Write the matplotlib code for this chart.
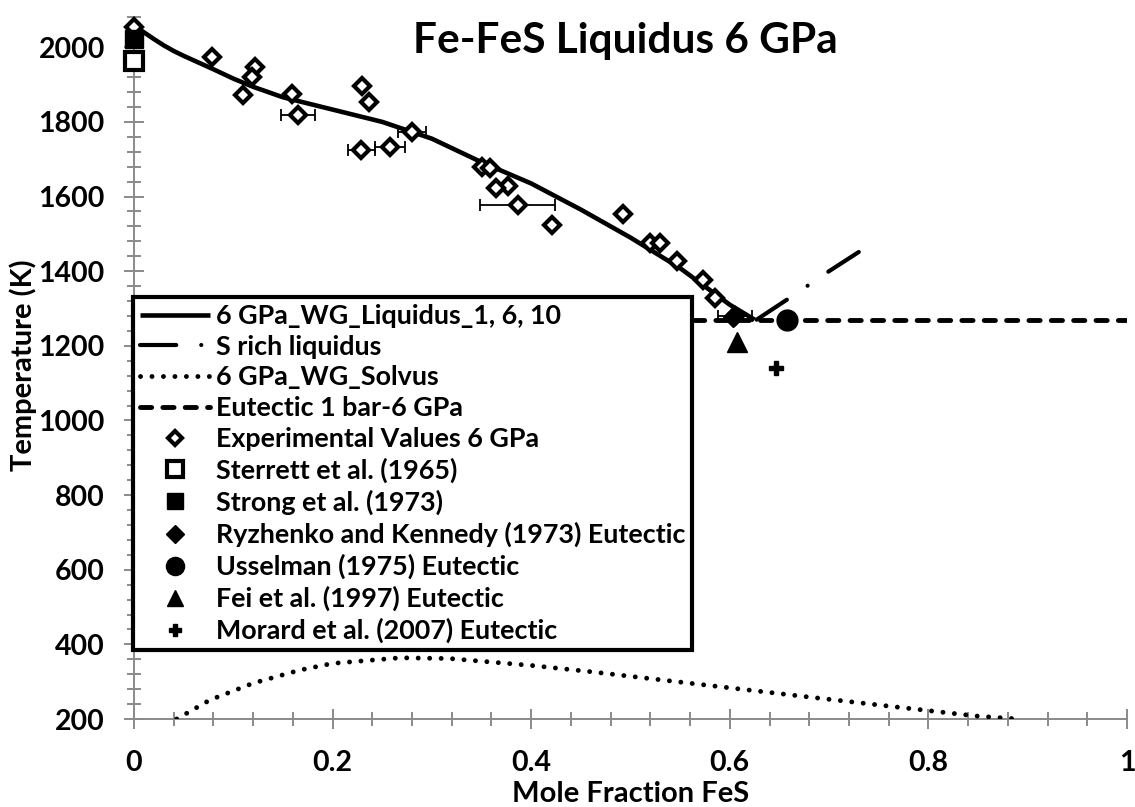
import matplotlib
matplotlib.use('Agg')
import matplotlib.pyplot as plt
from matplotlib.ticker import MultipleLocator, FuncFormatter

plt.rcParams['font.family'] = ['Lato', 'DejaVu Sans']
plt.rcParams['font.weight'] = 'bold'

# ---------------- data ----------------
liq_x = [0, 0.01, 0.02, 0.03, 0.04, 0.05, 0.06, 0.08, 0.1, 0.12, 0.15, 0.2, 0.25, 0.3,
         0.35, 0.4, 0.45, 0.5, 0.55, 0.6, 0.625]
liq_T = [2058, 2040, 2022, 2005, 1990, 1977, 1965, 1941, 1916, 1894, 1866, 1833, 1800, 1755,
         1692, 1635, 1565, 1490, 1408, 1310, 1270]

srich_x = [0.627, 0.66, 0.70, 0.732]
srich_T = [1270, 1328, 1400, 1455]

solvus_x = [0.043, 0.0765, 0.12, 0.167, 0.2, 0.268, 0.318, 0.402, 0.459, 0.566, 0.676, 0.765, 0.848, 0.875, 0.89]
solvus_T = [200, 251, 296, 331, 349, 364, 362, 343, 327, 294, 260, 233, 208, 203, 200]

eut_x = [0, 1.0]
eut_T = [1270, 1270]

exp_x = [0, 0.079, 0.122, 0.1185, 0.1095, 0.159, 0.1655, 0.230, 0.237, 0.229, 0.258, 0.280,
         0.350, 0.359, 0.377, 0.3645, 0.3864, 0.4206, 0.492, 0.520, 0.530, 0.547, 0.573, 0.585, 0.605]
exp_T = [2055, 1975, 1948, 1921, 1872, 1874, 1819, 1895, 1852, 1725, 1734, 1774,
         1678, 1676, 1627, 1622, 1576, 1524, 1553, 1475, 1476, 1426, 1376, 1327, 1281]
exp_xerr = [0, 0, 0, 0, 0, 0, 0.017, 0, 0, 0.0135, 0.015, 0.0145,
            0, 0, 0, 0, 0.0375, 0, 0, 0, 0, 0, 0, 0, 0.017]

sterrett_x, sterrett_T = [0], [1964]
strong_x, strong_T = [0], [2022]
ryz_x, ryz_T = [0.6035], [1277]
uss_x, uss_T = [0.658], [1268]
fei_x, fei_T = [0.607], [1210]
morard_x, morard_T = [0.647], [1141]

labels = ['6 GPa_WG_Liquidus_1, 6, 10', 'S rich liquidus', '6 GPa_WG_Solvus',
          'Eutectic 1 bar-6 GPa', 'Experimental Values 6 GPa', 'Sterrett et al. (1965)',
          'Strong et al. (1973)', 'Ryzhenko and Kennedy (1973) Eutectic',
          'Usselman (1975) Eutectic', 'Fei et al. (1997) Eutectic',
          'Morard et al. (2007) Eutectic']

# ---------------- figure ----------------
W, H = 1135, 807
fig = plt.figure(figsize=(W / 100, H / 100), dpi=100)
ax = fig.add_axes([134 / W, 88 / H, 993 / W, 701.6 / H])
ax.set_xlim(0, 1)
ax.set_ylim(200, 2080)

h1, = ax.plot(liq_x, liq_T, color='black', lw=3.3, solid_capstyle='butt',
              solid_joinstyle='round', zorder=3)
h2, = ax.plot(srich_x, srich_T, color='black', lw=3.0, dashes=(8.7, 6, 0.01, 6),
              dash_capstyle='round', zorder=3)
h3, = ax.plot(solvus_x, solvus_T, color='black', lw=3.5, dashes=(0.01, 2.35),
              dash_capstyle='round', zorder=3)
h4, = ax.plot(eut_x, eut_T, color='black', lw=3.5, dashes=(2.3, 2.3),
              dash_capstyle='round', zorder=3)

ax.errorbar(exp_x, exp_T, xerr=exp_xerr, fmt='none', ecolor='black', elinewidth=1.3,
            capsize=4, capthick=1.3, zorder=4)
h5, = ax.plot(exp_x, exp_T, 'D', ms=8.5, mfc='white', mec='black', mew=3.0,
              zorder=5, clip_on=False)
h6, = ax.plot(sterrett_x, sterrett_T, 's', ms=12.5, mfc='white', mec='black', mew=3.0,
              zorder=6, clip_on=False)
h7, = ax.plot(strong_x, strong_T, 's', ms=13, color='black', zorder=5.5, clip_on=False)
h8, = ax.plot(ryz_x, ryz_T, 'D', ms=10, color='black', zorder=6)
h9, = ax.plot(uss_x, uss_T, 'o', ms=15, color='black', zorder=6)
h10, = ax.plot(fei_x, fei_T, '^', ms=14, color='black', zorder=6)
h11, = ax.plot(morard_x, morard_T, 'P', ms=10, color='black', zorder=6)

# axes styling
gray = '#8a8a8a'
for s in ['top', 'right']:
    ax.spines[s].set_visible(False)
for s in ['left', 'bottom']:
    ax.spines[s].set_color(gray)
    ax.spines[s].set_linewidth(1.4)

ax.xaxis.set_major_locator(MultipleLocator(0.2))
ax.xaxis.set_minor_locator(MultipleLocator(0.04))
ax.yaxis.set_major_locator(MultipleLocator(200))
ax.yaxis.set_minor_locator(MultipleLocator(40))
ax.xaxis.set_major_formatter(FuncFormatter(lambda v, p: '%g' % round(v, 2)))
ax.yaxis.set_major_formatter(FuncFormatter(lambda v, p: '%d' % v))
ax.tick_params(which='major', direction='inout', length=14, width=1.4, color=gray,
               labelsize=20.5)
ax.tick_params(axis='x', which='major', pad=15)
ax.tick_params(axis='y', which='major', pad=14)
ax.tick_params(which='minor', direction='inout', length=10, width=1.4, color=gray)
for lab in ax.get_xticklabels() + ax.get_yticklabels():
    lab.set_fontweight('bold')

fig.text(625 / W, 1 - 53 / H, 'Fe-FeS Liquidus 6 GPa', ha='center', va='baseline',
         fontsize=30.5, fontweight='bold')
fig.text(630.5 / W, 4.5 / H, 'Mole Fraction FeS', ha='center', va='baseline',
         fontsize=21, fontweight='bold')
fig.text(23 / W, 1 - 365 / H, 'Temperature (K)', ha='center', va='center',
         rotation=90, fontsize=21, fontweight='bold')

leg = fig.legend([h1, h2, h3, h4, h5, h6, h7, h8, h9, h10, h11], labels,
                 loc='upper left', bbox_to_anchor=(133 / W, 1 - 297 / H),
                 bbox_transform=fig.transFigure, frameon=True, fancybox=False,
                 edgecolor='black', framealpha=1, borderaxespad=0, borderpad=0.26,
                 handlelength=2.6, handletextpad=0.22, labelspacing=0.25,
                 markerscale=0.87, prop=dict(weight='bold', size=19.4))
leg.get_frame().set_linewidth(3)

fig.savefig('out.png', dpi=100)
